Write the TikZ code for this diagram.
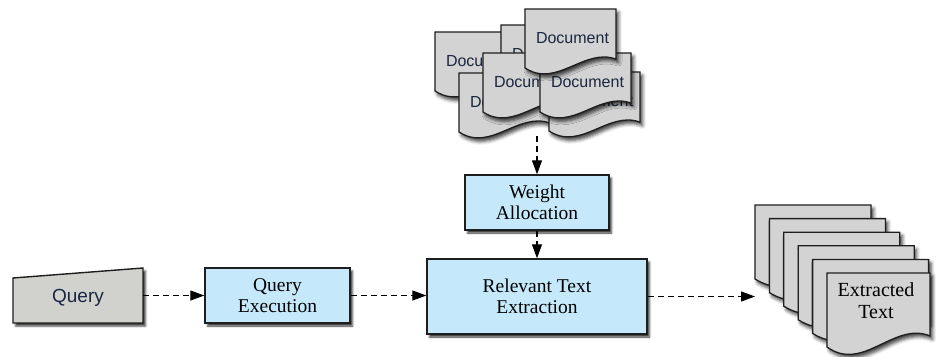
\documentclass[tikz,border=0pt]{standalone}
\usepackage{fontspec}
\setmainfont{Liberation Serif}
\newfontfamily\labelsans{Liberation Sans}
\usetikzlibrary{arrows.meta,shadows.blur}

\definecolor{procfill}{HTML}{C5E9FB}
\definecolor{docfill}{HTML}{D3D3D3}
\definecolor{inputfill}{HTML}{D1D2CE}
\definecolor{edgeline}{HTML}{1E1E1E}
\definecolor{doctext}{HTML}{1C2640}

\tikzset{
  boxshadow/.style={blur shadow={shadow xshift=2.5pt, shadow yshift=-3pt,
      shadow blur radius=2pt, shadow opacity=80}},
  sheetshadow/.style={blur shadow={shadow xshift=2.5pt, shadow yshift=-3.5pt,
      shadow blur radius=3.5pt, shadow opacity=75}},
  process/.style={draw=edgeline, line width=1.4pt, fill=procfill, boxshadow,
      align=center, inner sep=0pt, font=\fontsize{19.5}{21.5}\selectfont},
  sheet/.style={draw=edgeline, line width=1.3pt, fill=docfill, sheetshadow},
  doclabel/.style={font=\labelsans\fontsize{16}{18}\selectfont, text=doctext,
      inner sep=0pt},
  flow/.style={draw=black, line width=1.2pt, dash pattern=on 6pt off 4pt,
      -{Triangle[length=14pt,width=10pt]}},
}

% document sheet with a wavy lower edge: #1 left, #2 top, #3 width, #4 height
\newcommand\sheetpath[4]{%
  \path[sheet] (#1,#2) -- ({#1+#3},#2) -- ({#1+#3},{#2+0.85*#4})
    .. controls ({#1+0.65*#3},{#2+0.65*#4}) and ({#1+0.35*#3},{#2+1.35*#4})
    .. (#1,{#2+#4}) -- cycle;}
% stacked source document with its label: #1 name, #2 left, #3 top
\newcommand\docsheet[3]{%
  \sheetpath{#2}{#3}{91}{59}
  \node[doclabel] (#1) at ({#2+47.5},{#3+29}) {Document};}

\begin{document}
\begin{tikzpicture}[x=1pt,y=-1pt]
\useasboundingbox (0,0) rectangle (936,356);

% source documents
\docsheet{docA}{435}{32}
\docsheet{docB}{501}{25}
\docsheet{docD}{459}{73}
\docsheet{docG}{549}{72}
\docsheet{docE}{483}{53}
\docsheet{docF}{540}{53}
\docsheet{docC}{525}{9}
\coordinate (docs-out) at (537,136);

% manual input
\path[draw=edgeline, line width=1.4pt, fill=inputfill, boxshadow]
  (13,278) -- (143,268) -- (143,323) -- (13,323) -- cycle;
\node[font=\labelsans\fontsize{19}{21}\selectfont, text=doctext] (query)
  at (78,298) {Query};
\coordinate (query-out) at (143,295.5);

% processes
\node[process, minimum width=145pt, minimum height=55pt] (qe) at (277.5,295.5)
  {Query\\Execution};
\node[process, minimum width=144pt, minimum height=55pt] (wa) at (537,202.5)
  {Weight\\Allocation};
\node[process, minimum width=220pt, minimum height=75pt] (rte) at (537,296.5)
  {Relevant Text\\Extraction};

% extracted text stack
\foreach \i in {0,...,4}{
  \sheetpath{755+14.4*\i}{205+13.6*\i}{116}{74}
}
\sheetpath{827}{273}{103}{74}
\node[align=center, inner sep=0pt, font=\fontsize{20}{22}\selectfont] (out)
  at (876,301) {Extracted\\Text};
\coordinate (stack-in) at (755,296.5);

% connectors
\draw[flow] (query-out) -- (qe.west);
\draw[flow] (qe.east) -- (qe.east -| rte.west);
\draw[flow] (docs-out) -- (wa.north);
\draw[flow] (wa.south) -- (rte.north);
\draw[flow] (rte.east) -- (stack-in);
\end{tikzpicture}
\end{document}
